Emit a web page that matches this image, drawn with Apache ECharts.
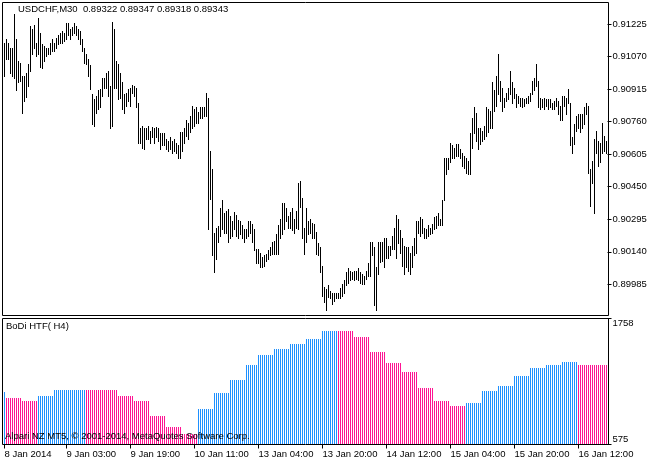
<!DOCTYPE html>
<html><head><meta charset="utf-8">
<script src="https://cdn.jsdelivr.net/npm/echarts@6/dist/echarts.min.js"></script>
<style>html,body{margin:0;padding:0;background:#fff}#c{width:660px;height:465px}</style>
</head><body><div id="c"></div>
<script>
// ---- M30 bar highs / lows (USDCHF) ----
const highs = [
0.91134,0.91153,0.91134,0.91106,0.91110,0.91268,0.91153,0.91048,0.91039,0.90977,
0.90977,0.90991,0.91034,0.91215,0.91201,0.91220,0.91134,0.91249,0.91182,0.91129,
0.91120,0.91106,0.91106,0.91134,0.91153,0.91134,0.91158,0.91168,0.91182,0.91191,
0.91182,0.91229,0.91225,0.91201,0.91210,0.91225,0.91215,0.91201,0.91191,0.91153,
0.91106,0.91082,0.91058,0.91025,0.90891,0.90867,0.90882,0.90910,0.90915,0.90963,
0.90967,0.90991,0.91001,0.90929,0.91234,0.91201,0.91048,0.91034,0.90991,0.90944,
0.90891,0.90896,0.90915,0.90920,0.90934,0.90929,0.90920,0.90848,0.90729,0.90739,
0.90725,0.90729,0.90739,0.90715,0.90734,0.90729,0.90734,0.90729,0.90701,0.90701,
0.90701,0.90677,0.90667,0.90682,0.90667,0.90677,0.90658,0.90648,0.90706,0.90710,
0.90725,0.90763,0.90753,0.90786,0.90834,0.90820,0.90829,0.90805,0.90829,0.90829,
0.90829,0.90896,0.90872,0.90620,0.90534,0.90229,0.90253,0.90258,0.90348,0.90382,
0.90324,0.90334,0.90339,0.90310,0.90286,0.90329,0.90315,0.90291,0.90286,0.90263,
0.90244,0.90248,0.90286,0.90286,0.90272,0.90244,0.90153,0.90153,0.90134,0.90115,
0.90120,0.90129,0.90148,0.90158,0.90182,0.90191,0.90220,0.90263,0.90296,0.90372,
0.90372,0.90344,0.90310,0.90329,0.90348,0.90296,0.90334,0.90467,0.90477,0.90396,
0.90253,0.90344,0.90286,0.90296,0.90277,0.90272,0.90234,0.90177,0.90158,0.90072,
0.89972,0.89958,0.89977,0.89953,0.89943,0.89939,0.89943,0.89943,0.89963,0.89986,
0.90001,0.90039,0.90058,0.90048,0.90039,0.90048,0.90048,0.90058,0.90039,0.90034,
0.90024,0.90048,0.90082,0.90182,0.90182,0.90158,0.90063,0.90182,0.90182,0.90182,
0.90205,0.90205,0.90167,0.90167,0.90215,0.90253,0.90315,0.90296,0.90239,0.90201,
0.90167,0.90158,0.90158,0.90134,0.90167,0.90201,0.90286,0.90286,0.90301,0.90296,
0.90253,0.90248,0.90263,0.90253,0.90272,0.90301,0.90310,0.90320,0.90296,0.90386,
0.90582,0.90582,0.90586,0.90658,0.90644,0.90634,0.90653,0.90653,0.90629,0.90606,
0.90596,0.90586,0.90572,0.90701,0.90777,0.90825,0.90801,0.90729,0.90725,0.90715,
0.90739,0.90825,0.90820,0.90810,0.90944,0.90906,0.90977,0.91082,0.90953,0.90920,
0.90872,0.90896,0.90920,0.91001,0.90944,0.90920,0.90891,0.90882,0.90872,0.90872,
0.90867,0.90872,0.90882,0.90896,0.90953,0.90967,0.91034,0.90953,0.90872,0.90867,
0.90872,0.90867,0.90867,0.90867,0.90848,0.90858,0.90872,0.90858,0.90834,0.90882,
0.90882,0.90872,0.90915,0.90844,0.90682,0.90748,0.90786,0.90796,0.90796,0.90796,
0.90825,0.90848,0.90834,0.90534,0.90572,0.90677,0.90715,0.90667,0.90658,0.90753,
0.90691,0.90667
];
const lows = [
0.90977,0.91058,0.91058,0.90991,0.90977,0.90967,0.90910,0.90944,0.90953,0.90801,
0.90858,0.90877,0.90929,0.91001,0.91082,0.91106,0.91072,0.91082,0.91020,0.91015,
0.91048,0.91072,0.91082,0.91082,0.91096,0.91096,0.91110,0.91129,0.91134,0.91134,
0.91144,0.91153,0.91168,0.91153,0.91168,0.91182,0.91168,0.91153,0.91129,0.91096,
0.91039,0.91034,0.90977,0.90915,0.90748,0.90739,0.90801,0.90820,0.90825,0.90882,
0.90920,0.90920,0.90882,0.90725,0.90739,0.90920,0.90920,0.90867,0.90872,0.90820,
0.90801,0.90834,0.90858,0.90834,0.90896,0.90882,0.90825,0.90658,0.90658,0.90634,
0.90629,0.90677,0.90677,0.90658,0.90682,0.90658,0.90682,0.90667,0.90629,0.90644,
0.90644,0.90629,0.90620,0.90629,0.90610,0.90620,0.90610,0.90586,0.90586,0.90620,
0.90658,0.90691,0.90677,0.90706,0.90729,0.90739,0.90753,0.90753,0.90777,0.90777,
0.90786,0.90782,0.90248,0.90391,0.90120,0.90043,0.90105,0.90182,0.90215,0.90248,
0.90229,0.90229,0.90182,0.90201,0.90215,0.90248,0.90215,0.90201,0.90224,0.90201,
0.90186,0.90205,0.90215,0.90229,0.90182,0.90148,0.90086,0.90086,0.90063,0.90063,
0.90072,0.90096,0.90101,0.90124,0.90129,0.90129,0.90129,0.90129,0.90201,0.90224,
0.90248,0.90286,0.90253,0.90253,0.90239,0.90229,0.90253,0.90248,0.90353,0.90205,
0.90129,0.90182,0.90224,0.90229,0.90205,0.90205,0.90129,0.90120,0.90039,0.89929,
0.89896,0.89858,0.89924,0.89915,0.89891,0.89905,0.89915,0.89915,0.89915,0.89929,
0.89943,0.89977,0.89991,0.90001,0.90010,0.90001,0.90010,0.90001,0.89991,0.89986,
0.89986,0.90010,0.90024,0.90024,0.90120,0.89882,0.89858,0.90034,0.90091,0.90096,
0.90063,0.90110,0.90110,0.90120,0.90153,0.90153,0.90110,0.90177,0.90134,0.90072,
0.90034,0.90063,0.90048,0.90034,0.90063,0.90120,0.90134,0.90229,0.90215,0.90229,
0.90201,0.90205,0.90215,0.90224,0.90229,0.90248,0.90253,0.90263,0.90263,0.90263,
0.90382,0.90510,0.90534,0.90563,0.90586,0.90586,0.90596,0.90596,0.90586,0.90548,
0.90539,0.90515,0.90510,0.90510,0.90634,0.90701,0.90667,0.90629,0.90653,0.90667,
0.90677,0.90691,0.90706,0.90725,0.90729,0.90810,0.90834,0.90891,0.90858,0.90810,
0.90825,0.90858,0.90867,0.90891,0.90848,0.90872,0.90825,0.90844,0.90834,0.90825,
0.90834,0.90844,0.90848,0.90858,0.90891,0.90906,0.90929,0.90825,0.90820,0.90825,
0.90820,0.90834,0.90820,0.90825,0.90820,0.90820,0.90834,0.90796,0.90763,0.90763,
0.90834,0.90796,0.90844,0.90644,0.90606,0.90653,0.90715,0.90725,0.90706,0.90725,
0.90748,0.90796,0.90515,0.90358,0.90463,0.90320,0.90610,0.90548,0.90563,0.90610,
0.90620,0.90610
];
const priceTicks = [0.91225,0.91070,0.90915,0.90760,0.90605,0.90450,0.90295,0.90140,0.89985];
const priceMin = 0.898364, priceMax = 0.913274;

// ---- BoDi HTF(H4) histogram: one value per H4 block, spread over its M30 bars ----
const htfBlockLengths = [1,8,8,8,8,8,8,8,8,8,8,8,8,8,8,8,6,8,8,8,8,8,8,8,8,8,8,8,8,8,8,8,8,8,8,8,8,8,7];
const htfBlockValues  = [1066,1007,988,1026,1091,1091,1091,1091,1026,988,847,744,669,904,1054,1185,1326,1420,1467,1523,1570,1645,1645,1589,1448,1336,1260,1110,988,941,960,1073,1120,1214,1289,1326,1345,1326,1317];
const htfBlockTrend   = ['up','dn','dn','up','up','up','dn','dn','dn','dn','dn','dn','dn','up','up','up','up','up','up','up','up','up','dn','dn','dn','dn','dn','dn','dn','dn','up','up','up','up','up','up','up','dn','dn'];
const htfMin = 575, htfMax = 1758;

// ---- time axis labels ----
const timeTickIndex  = [0,31,63,95,127,159,191,223,255,287];
const timeTickLabels = ['8 Jan 2014','9 Jan 03:00','9 Jan 19:00','10 Jan 11:00','13 Jan 04:00','13 Jan 20:00','14 Jan 12:00','15 Jan 04:00','15 Jan 20:00','16 Jan 12:00'];

const UP_COLOR = '#1E90FF', DN_COLOR = '#FF1493';
const FF = 'Liberation Sans', FS = 9.5;

const N = highs.length;
const cats = Array.from({length: N}, (_, i) => i);
const barsData = cats.map(i => [i, highs[i], lows[i]]);
const htfData = [];
htfBlockLengths.forEach((len, b) => {
  for (let k = 0; k < len; k++) htfData.push([htfData.length, htfBlockValues[b], htfBlockTrend[b] === 'up' ? 1 : 0]);
});
const labelMap = {};
timeTickIndex.forEach((idx, k) => labelMap[idx] = timeTickLabels[k]);
const isTick = (i) => labelMap[i] !== undefined;

const txt = {fontFamily: FF, fontSize: FS, color: '#000', fontWeight: 'normal'};

const chart = echarts.init(document.getElementById('c'));
chart.setOption({
  animation: false,
  backgroundColor: '#fff',
  title: [
    {text: 'USDCHF,M30  0.89322 0.89347 0.89318 0.89343', left: 18, top: 4.5, padding: 0, textStyle: txt},
    {text: 'BoDi HTF( H4)', left: 6, top: 321.5, padding: 0, textStyle: txt},
    {text: 'Alpari NZ MT5, \u00A9 2001-2014, MetaQuotes Software Corp.', left: 5, top: 431.5, padding: 0, textStyle: txt}
  ],
  grid: [
    {left: 3.5, top: 2.5, width: 604, height: 313},
    {left: 3.5, top: 318.5, width: 604, height: 126}
  ],
  xAxis: [
    {gridIndex: 0, type: 'category', data: cats, boundaryGap: true, show: false},
    {gridIndex: 1, type: 'category', data: cats, boundaryGap: true,
     axisLine: {show: false},
     axisTick: {show: true, interval: (i) => isTick(i), alignWithLabel: true, length: 4, lineStyle: {color: '#000', width: 1}},
     axisLabel: {interval: (i) => isTick(i), formatter: (v, i) => labelMap[i] || '', align: 'left', margin: 5, ...txt},
     splitLine: {show: false}}
  ],
  yAxis: [
    {gridIndex: 0, type: 'value', position: 'right', min: priceMin, max: priceMax, scale: true,
     axisLine: {show: false}, splitLine: {show: false},
     axisTick: {show: true, length: 4, customValues: priceTicks, lineStyle: {color: '#000'}},
     axisLabel: {customValues: priceTicks, formatter: v => v.toFixed(5), margin: 5, ...txt}},
    {gridIndex: 1, type: 'value', position: 'right', min: htfMin, max: htfMax,
     axisLine: {show: false}, splitLine: {show: false},
     axisTick: {show: true, length: 4, customValues: [htfMax], lineStyle: {color: '#000'}},
     axisLabel: {customValues: [htfMax], formatter: v => String(Math.round(v)), margin: 5, verticalAlign: 'top', ...txt}},
    {gridIndex: 1, type: 'value', position: 'right', min: htfMin, max: htfMax,
     axisLine: {show: false}, splitLine: {show: false},
     axisTick: {show: true, length: 4, customValues: [htfMin], lineStyle: {color: '#000'}},
     axisLabel: {customValues: [htfMin], formatter: v => String(Math.round(v)), margin: 5, verticalAlign: 'bottom', ...txt}}
  ],
  graphic: [
    {type: 'rect', silent: true, z: 100, shape: {x: 2.5, y: 2.5, width: 606, height: 313}, style: {fill: null, stroke: '#000', lineWidth: 1}},
    {type: 'rect', silent: true, z: 100, shape: {x: 2.5, y: 318.5, width: 606, height: 126}, style: {fill: null, stroke: '#000', lineWidth: 1}}
  ],
  series: [
    {type: 'custom', xAxisIndex: 0, yAxisIndex: 0, data: barsData, encode: {x: 0, y: [1, 2]},
     renderItem: function (params, api) {
       const i = api.value(0);
       const a = api.coord([i, api.value(1)]);
       const b = api.coord([i, api.value(2)]);
       const x = Math.floor(a[0]) + 0.5;
       let y1 = Math.floor(a[1]), y2 = Math.ceil(b[1]);
       if (y2 - y1 < 1) y2 = y1 + 1;
       return {type: 'line', shape: {x1: x, y1: y1, x2: x, y2: y2}, style: {stroke: '#000', lineWidth: 1}};
     }},
    {type: 'custom', xAxisIndex: 1, yAxisIndex: 1, data: htfData, encode: {x: 0, y: 1},
     renderItem: function (params, api) {
       const i = api.value(0);
       const a = api.coord([i, api.value(1)]);
       const b = api.coord([i, htfMin]);
       const x = Math.floor(a[0]);
       const y1 = Math.round(a[1]), y2 = Math.round(b[1]);
       return {type: 'rect', shape: {x: x, y: y1, width: 1, height: y2 - y1},
               style: {fill: api.value(2) === 1 ? UP_COLOR : DN_COLOR}};
     }}
  ]
});
</script></body></html>
